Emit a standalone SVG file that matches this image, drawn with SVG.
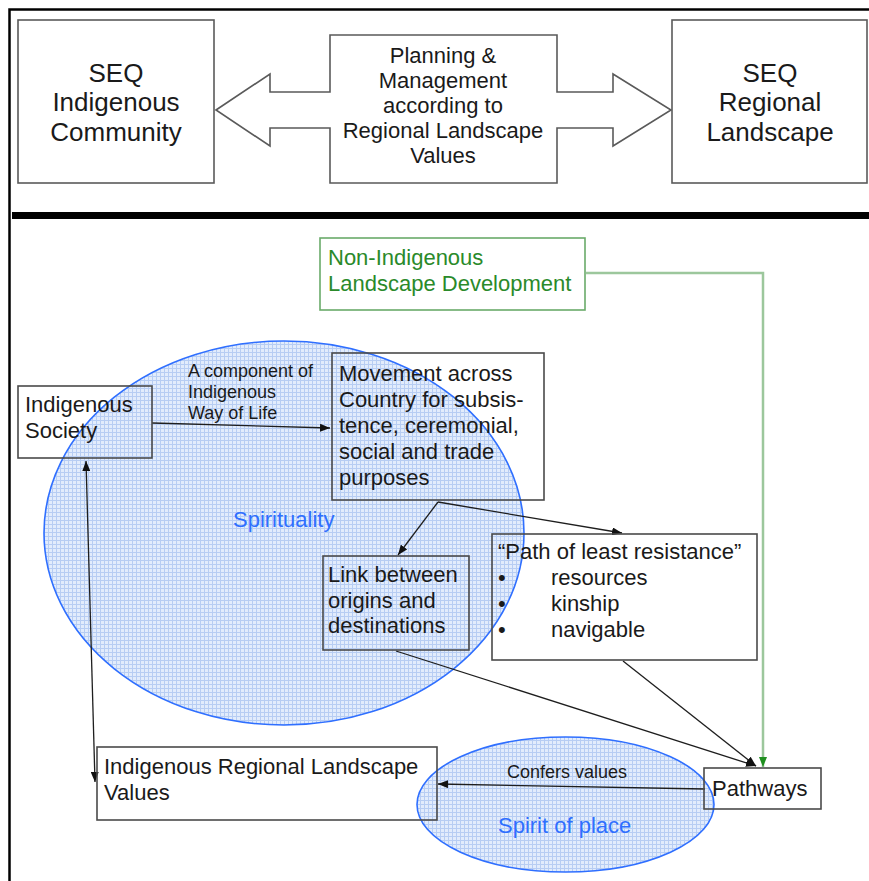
<svg xmlns="http://www.w3.org/2000/svg" width="869" height="881" viewBox="0 0 869 881">
  <style>
    text { font-family: "Liberation Sans", Arial, sans-serif; fill: #1a1a1a; }
    .big { font-size: 26px; text-anchor: middle; }
    .mid { font-size: 22px; text-anchor: middle; }
    .t22 { font-size: 22px; }
    .t18 { font-size: 18px; }
    .green { fill: #2a8a2a; }
    .blue { fill: #2f6fff; }
    .box { fill: none; stroke: #4a4a4a; stroke-width: 1.6; }
    .topbox { fill: #ffffff; stroke: #5a5a5a; stroke-width: 1.6; }
    .link { fill: none; stroke: #1e1e1e; stroke-width: 1.3; }
    .zone { fill: url(#grid); stroke: #2f6fff; stroke-width: 1.6; }
  </style>
  <defs>
    <pattern id="grid" width="4" height="4" patternUnits="userSpaceOnUse">
      <rect width="4" height="4" fill="#e2ecfc"/>
      <path d="M0,0.5 H4 M0.5,0 V4" stroke="#b7cdf3" stroke-width="1"/>
    </pattern>
    <marker id="arrow" viewBox="0 0 10 8" refX="10" refY="4" markerWidth="10" markerHeight="8" markerUnits="userSpaceOnUse" orient="auto-start-reverse">
      <path d="M0,0 L10,4 L0,8 z" fill="#111"/>
    </marker>
    <marker id="arrowGreen" viewBox="0 0 10 8" refX="10" refY="4" markerWidth="10" markerHeight="8" markerUnits="userSpaceOnUse" orient="auto">
      <path d="M0,0 L10,4 L0,8 z" fill="#1f8f1f"/>
    </marker>
  </defs>

  <rect width="869" height="881" fill="#ffffff"/>

  <!-- page frame and divider -->
  <path d="M9.5,881 V9.5 H869" fill="none" stroke="#000" stroke-width="2.5"/>
  <rect x="12" y="212" width="857" height="7" fill="#000"/>

  <!-- top band -->
  <g id="seq-community">
    <rect class="topbox" x="18" y="20" width="196" height="163"/>
    <text class="big" x="116" y="82">SEQ</text>
    <text class="big" x="116" y="111">Indigenous</text>
    <text class="big" x="116" y="141">Community</text>
  </g>
  <g id="planning">
    <path class="topbox" d="M216,110 L270,74 V92 H330 V35 H557 V92 H613 V74 L671,110 L613,146 V128 H557 V183 H330 V128 H270 V146 Z"/>
    <text class="mid" x="443" y="63">Planning &amp;</text>
    <text class="mid" x="443" y="88">Management</text>
    <text class="mid" x="443" y="113">according to</text>
    <text class="mid" x="443" y="138">Regional Landscape</text>
    <text class="mid" x="443" y="163">Values</text>
  </g>
  <g id="seq-landscape">
    <rect class="topbox" x="672" y="20" width="195" height="163"/>
    <text class="big" x="770" y="82">SEQ</text>
    <text class="big" x="770" y="111">Regional</text>
    <text class="big" x="770" y="141">Landscape</text>
  </g>

  <!-- shaded zones -->
  <g id="spirituality">
    <ellipse class="zone" cx="284" cy="533" rx="240" ry="192"/>
    <text class="t22 blue" x="233" y="527">Spirituality</text>
  </g>
  <g id="spirit-of-place">
    <ellipse class="zone" cx="565.5" cy="804.5" rx="148.5" ry="67.5"/>
    <text class="t22 blue" x="498" y="833">Spirit of place</text>
  </g>

  <!-- connectors -->
  <g id="connectors">
    <path class="link" d="M152,423 L330,428" marker-end="url(#arrow)"/>
    <path class="link" d="M438,502 L398,555" marker-end="url(#arrow)"/>
    <path class="link" d="M438,502 L622,533" marker-end="url(#arrow)"/>
    <path class="link" d="M396,651 L756,766" marker-end="url(#arrow)"/>
    <path class="link" d="M623,661 L756,766" marker-end="url(#arrow)"/>
    <path class="link" d="M705,789 L438,784" marker-end="url(#arrow)"/>
    <path class="link" d="M86,461 L95,782" marker-start="url(#arrow)" marker-end="url(#arrow)"/>
    <path d="M586,273 H763 V767" fill="none" stroke="#9cc79c" stroke-width="2.5" marker-end="url(#arrowGreen)"/>
    <text class="t18" x="188" y="377">A component of</text>
    <text class="t18" x="188" y="398">Indigenous</text>
    <text class="t18" x="188" y="419">Way of Life</text>
    <text class="t18" x="507" y="778">Confers values</text>
  </g>

  <!-- nodes -->
  <g id="non-indigenous">
    <rect x="320" y="238" width="265" height="72" fill="none" stroke="#6aab6a" stroke-width="1.6"/>
    <text class="t22 green" x="328" y="265">Non-Indigenous</text>
    <text class="t22 green" x="328" y="291">Landscape Development</text>
  </g>
  <g id="indigenous-society">
    <rect class="box" x="18" y="386" width="134" height="72"/>
    <text class="t22" x="25" y="412">Indigenous</text>
    <text class="t22" x="25" y="438">Society</text>
  </g>
  <g id="movement">
    <rect class="box" x="332" y="353" width="212" height="147"/>
    <text class="t22" x="339" y="381">Movement across</text>
    <text class="t22" x="339" y="407">Country for subsis-</text>
    <text class="t22" x="339" y="433">tence, ceremonial,</text>
    <text class="t22" x="339" y="459">social and trade</text>
    <text class="t22" x="339" y="485">purposes</text>
  </g>
  <g id="link-origins">
    <rect class="box" x="323" y="556" width="146" height="94"/>
    <text class="t22" x="328" y="582">Link between</text>
    <text class="t22" x="328" y="608">origins and</text>
    <text class="t22" x="328" y="633">destinations</text>
  </g>
  <g id="least-resistance">
    <rect class="box" x="492" y="534" width="265" height="126"/>
    <text class="t22" x="498" y="559">“Path of least resistance”</text>
    <text class="t22" x="498" y="585">•</text>
    <text class="t22" x="551" y="585">resources</text>
    <text class="t22" x="498" y="611">•</text>
    <text class="t22" x="551" y="611">kinship</text>
    <text class="t22" x="498" y="637">•</text>
    <text class="t22" x="551" y="637">navigable</text>
  </g>
  <g id="landscape-values">
    <rect class="box" x="97" y="747" width="340" height="73"/>
    <text class="t22" x="104" y="774">Indigenous Regional Landscape</text>
    <text class="t22" x="104" y="800">Values</text>
  </g>
  <g id="pathways">
    <rect class="box" x="704" y="768" width="117" height="41"/>
    <text class="t22" x="712" y="796">Pathways</text>
  </g>
</svg>
